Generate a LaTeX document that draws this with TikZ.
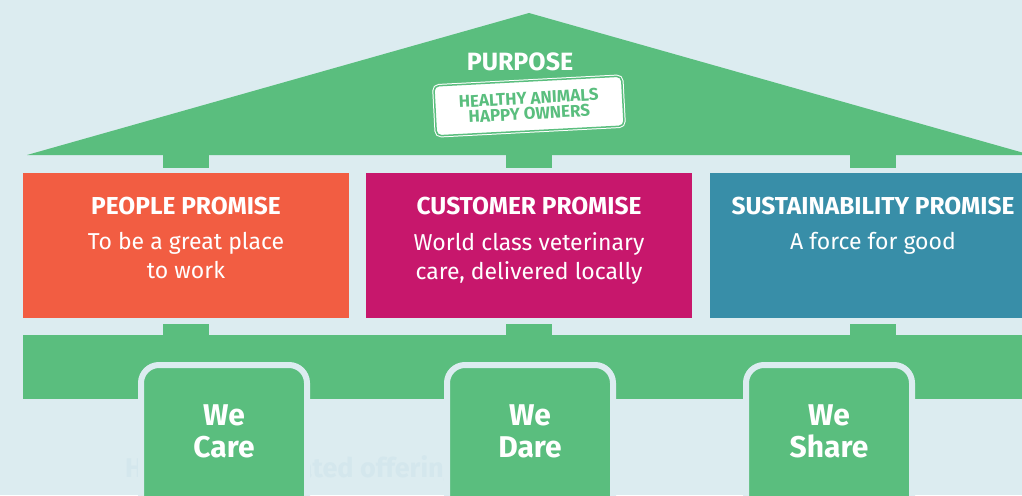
\documentclass[tikz,border=0pt]{standalone}
\usepackage{fontspec}
\setmainfont{Fira Sans}
\usetikzlibrary{positioning}
\definecolor{bgblue}{RGB}{220,236,240}
\definecolor{roofgreen}{RGB}{90,190,126}
\definecolor{peopleorange}{RGB}{242,93,66}
\definecolor{customerpink}{RGB}{199,23,108}
\definecolor{sustainteal}{RGB}{56,142,168}
\definecolor{fadedblue}{RGB}{212,231,237}

\begin{document}
\begin{tikzpicture}[x=1pt, y=-1pt,
  Tab/.style={fill=roofgreen, minimum width=46pt, minimum height=13pt, inner sep=0pt, outer sep=0pt},
  Promise/.style={minimum width=326pt, minimum height=145pt, inner sep=0pt, outer sep=0pt},
  Title/.style={text=white, inner sep=0pt, font=\fontsize{24.5}{26}\selectfont\bfseries},
  Desc/.style={text=white, inner sep=0pt, align=center, font=\fontsize{23}{29}\selectfont},
  Value/.style={fill=roofgreen, draw=bgblue, line width=6pt, rounded corners=18pt, minimum width=166pt, minimum height=160pt, inner sep=0pt, outer sep=0pt},
  ValueText/.style={text=white, inner sep=0pt, align=center, font=\fontsize{30}{32}\selectfont\bfseries}]

\fill [bgblue] (0,0) rectangle (1022,495);
\useasboundingbox (0,0) rectangle (1022,495);
\clip (0,0) rectangle (1022,495);

% roof
\fill [roofgreen] (27,155) -- (529,13) -- (1031,155) -- cycle;
\node [Title, font=\fontsize{25}{26}\selectfont\bfseries] (purpose) at (520,62) {PURPOSE};
\node [rotate=3, fill=white, draw=white, double=roofgreen, double distance=1.5pt, line width=1pt, rounded corners=5pt, minimum width=188pt, minimum height=50pt, inner sep=0pt, text=roofgreen, align=center, font=\fontsize{17}{15.5}\selectfont\bfseries] (motto) at (529,106) {HEALTHY ANIMALS\\HAPPY OWNERS};

% base
\fill [roofgreen] (23,335) rectangle (1040,399);
\node [anchor=base west, text=fadedblue, inner sep=0pt, font=\fontsize{27}{27}\selectfont\bfseries] (offering) at (125,477) {Holistic integrated offering};

% promises
\foreach \pos/\name/\col/\title/\desc in {186/people/peopleorange/PEOPLE PROMISE/{To be a great place\\to work}, 529/customer/customerpink/CUSTOMER PROMISE/{World class veterinary\\care, delivered locally}, 873/sustain/sustainteal/SUSTAINABILITY PROMISE/A force for good} {
  \node [Tab] (\name-top) at (\pos,161.5) {};
  \node [Tab, minimum height=12pt] (\name-foot) at (\pos,330) {};
  \node [Promise, fill=\col] (\name) at (\pos,245.5) {};
  \node [Title, below=24pt of \name.north] (\name-title) {\title};
  \node [Desc, below=17pt of \name-title] (\name-desc) {\desc};
}

% values
\foreach \pos/\name/\word in {224/care/Care, 530/dare/Dare, 829/share/Share} {
  \node [Value] (\name) at (\pos,445) {};
  \node [ValueText, below=40pt of \name.north] (\name-label) {We\\\word};
}
\end{tikzpicture}
\end{document}
